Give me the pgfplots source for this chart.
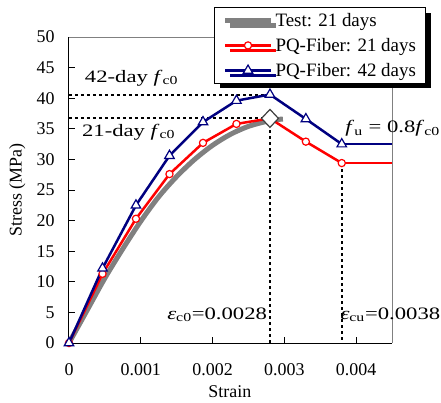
\documentclass[border=0pt]{standalone}
\usepackage{fontspec}
\setmainfont{Liberation Serif}
\usepackage{graphicx}
\usepackage{pgfplots}
\pgfplotsset{compat=1.18}
\usetikzlibrary{shadows}
\definecolor{testgray}{RGB}{128,128,128}
\definecolor{navy}{RGB}{0,0,128}
\definecolor{dgray}{RGB}{64,64,64}
\newcommand{\ann}[1]{\scalebox{1.3}[1]{\fontsize{17.5}{20}\selectfont #1}}
\begin{document}
\begin{tikzpicture}
\path[use as bounding box] (-69bp,-60bp) rectangle (372bp,343bp);
\begin{axis}[
  scale only axis, width=323bp, height=306bp,
  xmin=0, xmax=0.0045, ymin=0, ymax=50,
  clip=false,
  axis x line*=bottom, axis y line*=left,
  axis line style={line width=1bp, black},
  tick align=inside, major tick length=6bp,
  tick style={black, line width=0.8bp},
  xtick={0,0.001,0.002,0.003,0.004},
  xticklabels={0,0.001,0.002,0.003,0.004},
  scaled x ticks=false,
  ytick={0,5,...,50},
  /pgf/number format/assume math mode=true,
  tick label style={font=\fontsize{18}{20}\selectfont},
  xticklabel style={yshift=-17bp},
  yticklabel style={xshift=-11bp},
  xlabel={Strain}, ylabel={Stress (MPa)},
  label style={font=\fontsize{18}{20}\selectfont},
  xlabel style={at={(axis description cs:0.498,-0.16)}, anchor=center},
  ylabel style={at={(axis description cs:-0.16,0.5)}, anchor=center},
  legend cell align=left,
  legend image code/.code={\draw[mark repeat=2,mark phase=2] plot coordinates {(0bp,0bp) (23bp,0bp) (46bp,0bp)};},
  legend style={at={(0.449,1.098)}, anchor=north west, draw=black, line width=1bp, fill=white,
    font=\fontsize{19}{21}\selectfont,
    drop shadow={shadow xshift=5bp, shadow yshift=-5bp, opacity=1, fill=black},
    inner xsep=8bp, inner ysep=3.5bp, row sep=6.5bp},
]
\draw[testgray, line width=0.8bp] (rel axis cs:0,1) -- (rel axis cs:1,1) -- (rel axis cs:1,0);
% reference lines
\addplot[black, line width=2bp, dash pattern=on 3bp off 3bp, forget plot] coordinates {(0,40.6) (0.0028,40.6)};
\addplot[black, line width=2bp, dash pattern=on 3bp off 3bp, forget plot] coordinates {(0,36.7) (0.0028,36.7)};
\addplot[black, line width=2bp, dash pattern=on 3bp off 3bp, forget plot] coordinates {(0.0028,36.7) (0.0028,0)};
\addplot[black, line width=2bp, dash pattern=on 3bp off 3bp, forget plot] coordinates {(0.0038,29.4) (0.0038,0)};
% test
\addplot[testgray, line width=5bp, no marks, smooth] coordinates {
(0,0) (0.00025,5.3) (0.0005,10.6) (0.00075,15.4) (0.001,19.9) (0.00125,23.9)
(0.0015,27.2) (0.00175,30.0) (0.002,32.3) (0.00225,34.1) (0.0025,35.4)
(0.00275,36.2) (0.0029,36.5) (0.00298,36.6)};
\addlegendentry{Test: 21 days}
% flat parts
\addplot[red, line width=2.5bp, forget plot] coordinates {(0.0038,29.4) (0.0045,29.4)};
\addplot[navy, line width=2.5bp, forget plot] coordinates {(0.0038,32.5) (0.0045,32.5)};
% PQ-Fiber 21 days
\addplot[red, line width=2.5bp, mark=*, mark size=3.6bp, mark options={fill=white, draw=red, line width=1.2bp}] coordinates {
(0,0) (0.000467,11.3) (0.000933,20.3) (0.0014,27.6) (0.001867,32.7)
(0.002333,35.8) (0.0028,36.7) (0.0033,32.9) (0.0038,29.4)};
\addlegendentry{PQ-Fiber: 21 days}
% PQ-Fiber 42 days
\addplot[navy, line width=2.5bp, mark=triangle*, mark size=5.5bp, mark options={fill=white, draw=navy, line width=1.2bp}] coordinates {
(0,0) (0.000467,12.2) (0.000933,22.5) (0.0014,30.6) (0.001867,36.1)
(0.002333,39.6) (0.0028,40.6) (0.0033,36.6) (0.0038,32.5)};
\addlegendentry{PQ-Fiber: 42 days}
% peak marker
\addplot[only marks, mark=diamond*, mark size=9bp, mark options={fill=white, draw=dgray, line width=1.2bp, xscale=1.25}, forget plot] coordinates {(0.0028,36.7)};
% annotations
\node[anchor=base west, inner sep=0pt] at (axis cs:0.00022,42.6) {\ann{42-day \textit{f}\textsubscript{c0}}};
\node[anchor=base west, inner sep=0pt] at (axis cs:0.00018,33.8) {\ann{21-day \textit{f}\textsubscript{c0}}};
\node[anchor=base east, inner sep=0pt] at (axis cs:0.00517,34.4) {\ann{\textit{f}\textsubscript{u} = 0.8\textit{f}\textsubscript{c0}}};
\node[anchor=base west, inner sep=0pt] at (axis cs:0.001367,3.9) {\ann{\textit{ε}\textsubscript{c0}=0.0028}};
\node[anchor=base west, inner sep=0pt] at (axis cs:0.00378,3.9) {\ann{\textit{ε}\textsubscript{cu}=0.0038}};
\end{axis}
\end{tikzpicture}
\end{document}
